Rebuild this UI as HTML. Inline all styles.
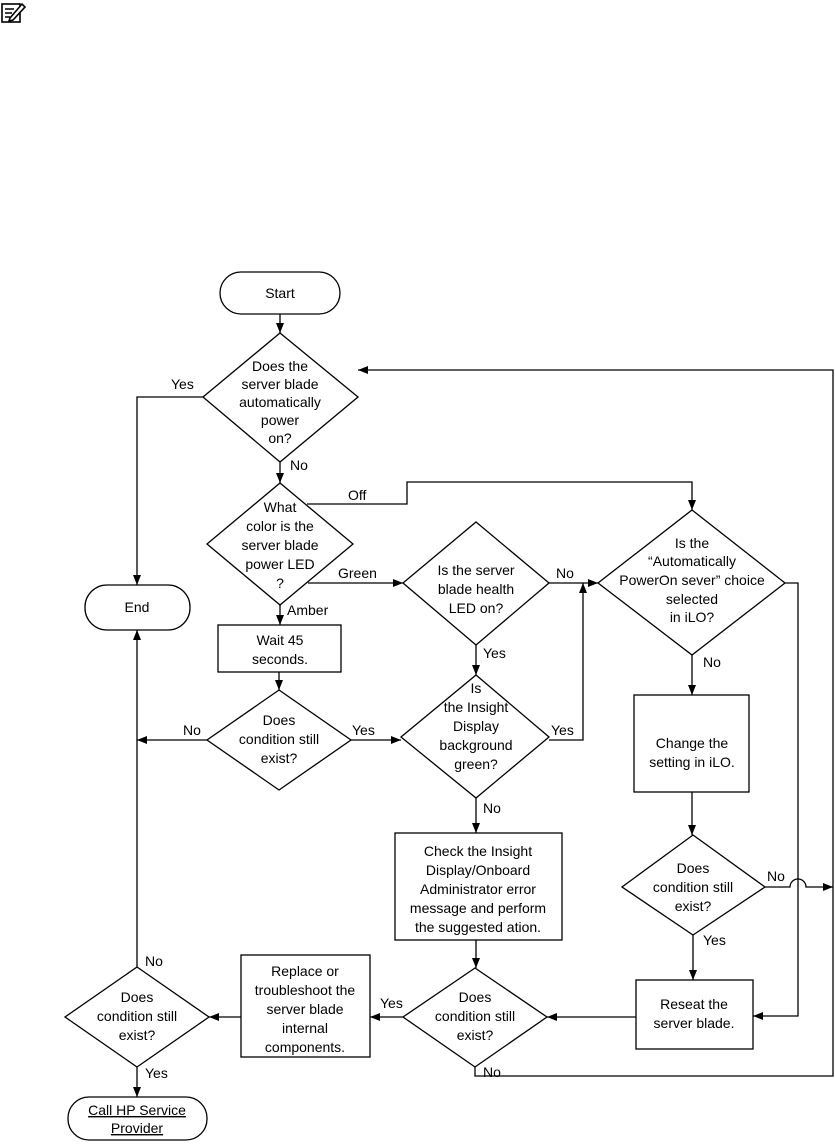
<!DOCTYPE html>
<html><head><meta charset="utf-8"><style>
html,body{margin:0;padding:0;background:#fff;}
svg{display:block;}
text{font-family:"Liberation Sans",Arial,sans-serif;font-size:14px;fill:#000;}
</style></head><body>
<svg width="835" height="1148" viewBox="0 0 835 1148" xmlns="http://www.w3.org/2000/svg">
<defs>
<marker id="a" markerWidth="10" markerHeight="8" refX="10" refY="4" orient="auto" markerUnits="userSpaceOnUse">
<path d="M0,0 L10,4 L0,8 z" fill="#000"/></marker>
</defs>
<!-- note icon -->
<g stroke="#000" fill="none" stroke-width="1.6">
<rect x="2" y="4" width="18" height="18"/>
<path d="M5,9 h9 M5,13 h7 M5,17 h5"/>
<path d="M10,18 L22,4 L25,7 L13,20 L9,21 z" fill="#fff"/>
</g>
<g stroke="#000" stroke-width="1.3" fill="none">
<!-- shapes -->
<rect x="220" y="272" width="120" height="42" rx="21" fill="#fff"/>
<polygon points="280,333 358,397 280,462 203,397" fill="#fff"/>
<rect x="85" y="585" width="105" height="45" rx="22" fill="#fff"/>
<polygon points="280,483 353,544 280,605 207,544" fill="#fff"/>
<polygon points="476,522 549,583 476,645 403,583" fill="#fff"/>
<polygon points="692,510 785,583 692,655 598,583" fill="#fff"/>
<rect x="218" y="625" width="123" height="47" fill="#fff"/>
<polygon points="279,690 351,740 279,790 207,740" fill="#fff"/>
<polygon points="476,675 549,737 476,798 401,737" fill="#fff"/>
<rect x="395" y="833" width="167" height="107" fill="#fff"/>
<polygon points="475,968 547,1017 475,1067 403,1017" fill="#fff"/>
<rect x="241" y="955" width="129" height="102" fill="#fff"/>
<polygon points="137,967 209,1017 137,1067 65,1017" fill="#fff"/>
<rect x="68" y="1097" width="139" height="43" rx="21" fill="#fff"/>
<rect x="634" y="695" width="115" height="97" fill="#fff"/>
<polygon points="693,835 765,887 693,935 622,887" fill="#fff"/>
<rect x="636" y="980" width="117" height="69" fill="#fff"/>
<!-- connectors -->
<path d="M280,314 V333" marker-end="url(#a)"/>
<path d="M203,397 H137 V585" marker-end="url(#a)"/>
<path d="M280,462 V483" marker-end="url(#a)"/>
<path d="M307,504 H407 V482 H692 V510" marker-end="url(#a)"/>
<path d="M308,583 H403" marker-end="url(#a)"/>
<path d="M549,583 H598" marker-end="url(#a)"/>
<path d="M280,605 V625" marker-end="url(#a)"/>
<path d="M476,645 V675" marker-end="url(#a)"/>
<path d="M279,672 V690" marker-end="url(#a)"/>
<path d="M207,740 H137" marker-end="url(#a)"/>
<path d="M351,740 H401" marker-end="url(#a)"/>
<path d="M549,740 H583 V583" marker-end="url(#a)"/>
<path d="M476,798 V833" marker-end="url(#a)"/>
<path d="M476,940 V968" marker-end="url(#a)"/>
<path d="M403,1017 H370" marker-end="url(#a)"/>
<path d="M241,1017 H209" marker-end="url(#a)"/>
<path d="M137,967 V630" marker-end="url(#a)"/>
<path d="M137,1067 V1097" marker-end="url(#a)"/>
<path d="M692,655 V695" marker-end="url(#a)"/>
<path d="M692,792 V835" marker-end="url(#a)"/>
<path d="M693,935 V980" marker-end="url(#a)"/>
<path d="M636,1017 H547" marker-end="url(#a)"/>
<path d="M785,583 H798 V1016 H753" marker-end="url(#a)"/>
<path d="M765,887 H790 A8,8 0 0 1 806,887 H833" marker-end="url(#a)"/>
<path d="M475,1067 V1076 H833 V370 H358" marker-end="url(#a)"/>
</g>
<g text-anchor="middle">
<text x="280" y="298">Start</text>
<text x="280" y="371">Does the</text><text x="280" y="389">server blade</text><text x="280" y="407">automatically</text><text x="280" y="425">power</text><text x="280" y="443">on?</text>
<text x="137" y="612">End</text>
<text x="280" y="512">What</text><text x="280" y="531">color is the</text><text x="280" y="550">server blade</text><text x="280" y="569">power LED</text><text x="280" y="588">?</text>
<text x="476" y="575">Is the server</text><text x="476" y="594">blade health</text><text x="476" y="613">LED on?</text>
<text x="692" y="548">Is the</text><text x="692" y="566">“Automatically</text><text x="692" y="585">PowerOn sever” choice</text><text x="692" y="604">selected</text><text x="692" y="622">in iLO?</text>
<text x="280" y="645">Wait 45</text><text x="280" y="664">seconds.</text>
<text x="279" y="725">Does</text><text x="279" y="744">condition still</text><text x="279" y="763">exist?</text>
<text x="476" y="693">Is</text><text x="476" y="712">the Insight</text><text x="476" y="731">Display</text><text x="476" y="750">background</text><text x="476" y="769">green?</text>
<text x="478" y="856">Check the Insight</text><text x="478" y="875">Display/Onboard</text><text x="478" y="894">Administrator error</text><text x="478" y="913">message and perform</text><text x="478" y="932">the suggested ation.</text>
<text x="475" y="1002">Does</text><text x="475" y="1021">condition still</text><text x="475" y="1040">exist?</text>
<text x="305" y="976">Replace or</text><text x="305" y="995">troubleshoot the</text><text x="305" y="1014">server blade</text><text x="305" y="1033">internal</text><text x="305" y="1052">components.</text>
<text x="137" y="1002">Does</text><text x="137" y="1021">condition still</text><text x="137" y="1040">exist?</text>
<text x="137" y="1115" text-decoration="underline">Call HP Service</text><text x="137" y="1133" text-decoration="underline">Provider</text>
<text x="692" y="748">Change the</text><text x="692" y="767">setting in iLO.</text>
<text x="693" y="873">Does</text><text x="693" y="892">condition still</text><text x="693" y="911">exist?</text>
<text x="694" y="1009">Reseat the</text><text x="694" y="1028">server blade.</text>
</g>
<g>
<text x="171" y="389">Yes</text>
<text x="290" y="470">No</text>
<text x="348" y="500">Off</text>
<text x="338" y="578">Green</text>
<text x="556" y="578">No</text>
<text x="287" y="615">Amber</text>
<text x="483" y="658">Yes</text>
<text x="183" y="735">No</text>
<text x="352" y="735">Yes</text>
<text x="551" y="735">Yes</text>
<text x="483" y="813">No</text>
<text x="703" y="667">No</text>
<text x="767" y="881">No</text>
<text x="703" y="945">Yes</text>
<text x="380" y="1008">Yes</text>
<text x="483" y="1077">No</text>
<text x="145" y="966">No</text>
<text x="145" y="1078">Yes</text>
</g>
</svg>
</body></html>
